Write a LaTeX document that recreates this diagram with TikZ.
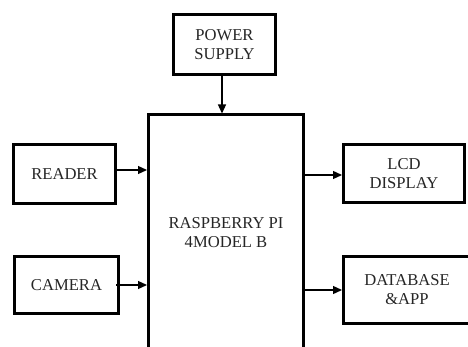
\documentclass[tikz,border=0pt]{standalone}
\usepackage{fontspec}
\setmainfont{Liberation Serif}
\usetikzlibrary{arrows.meta}
\begin{document}
\begin{tikzpicture}[x=1pt,y=-1pt,
  blk/.style={draw=black, line width=3pt, fill=white, inner sep=0pt, align=center,
    font=\fontsize{16.6}{19}\selectfont, text=black!85},
  link/.style={line width=1.3pt, -{Triangle[length=9pt,width=8pt]}}]
\useasboundingbox (0,0) rectangle (468,347);
\node[blk, minimum width=102pt, minimum height=60pt] (power) at (224.5,44.5) {POWER\\SUPPLY};
\node[blk, minimum width=155pt, minimum height=236pt] (rasp) at (226,233) {RASPBERRY PI\\4MODEL B};
\node[blk, minimum width=102pt, minimum height=59pt] (reader) at (64.5,174) {READER};
\node[blk, minimum width=104pt, minimum height=57pt] (camera) at (66.5,285) {CAMERA};
\node[blk, minimum width=121pt, minimum height=58pt] (lcd) at (404,173.5) {LCD\\DISPLAY};
\node[blk, minimum width=127pt, minimum height=67pt] (db) at (407,290) {DATABASE\\\&APP};
\draw[link] ([xshift=-2.5pt]power.south) -- ([xshift=-2.5pt]power.south |- rasp.north);
\draw[link] ([yshift=4pt]reader.east) -- ([yshift=4pt]reader.east -| rasp.west);
\draw[link] ([xshift=-4pt]camera.east) -- (camera.east -| rasp.west);
\draw[link] ([yshift=-1.5pt]lcd.west -| rasp.east) -- ([yshift=-1.5pt]lcd.west);
\draw[link] (db.west -| rasp.east) -- (db.west);
\end{tikzpicture}
\end{document}
